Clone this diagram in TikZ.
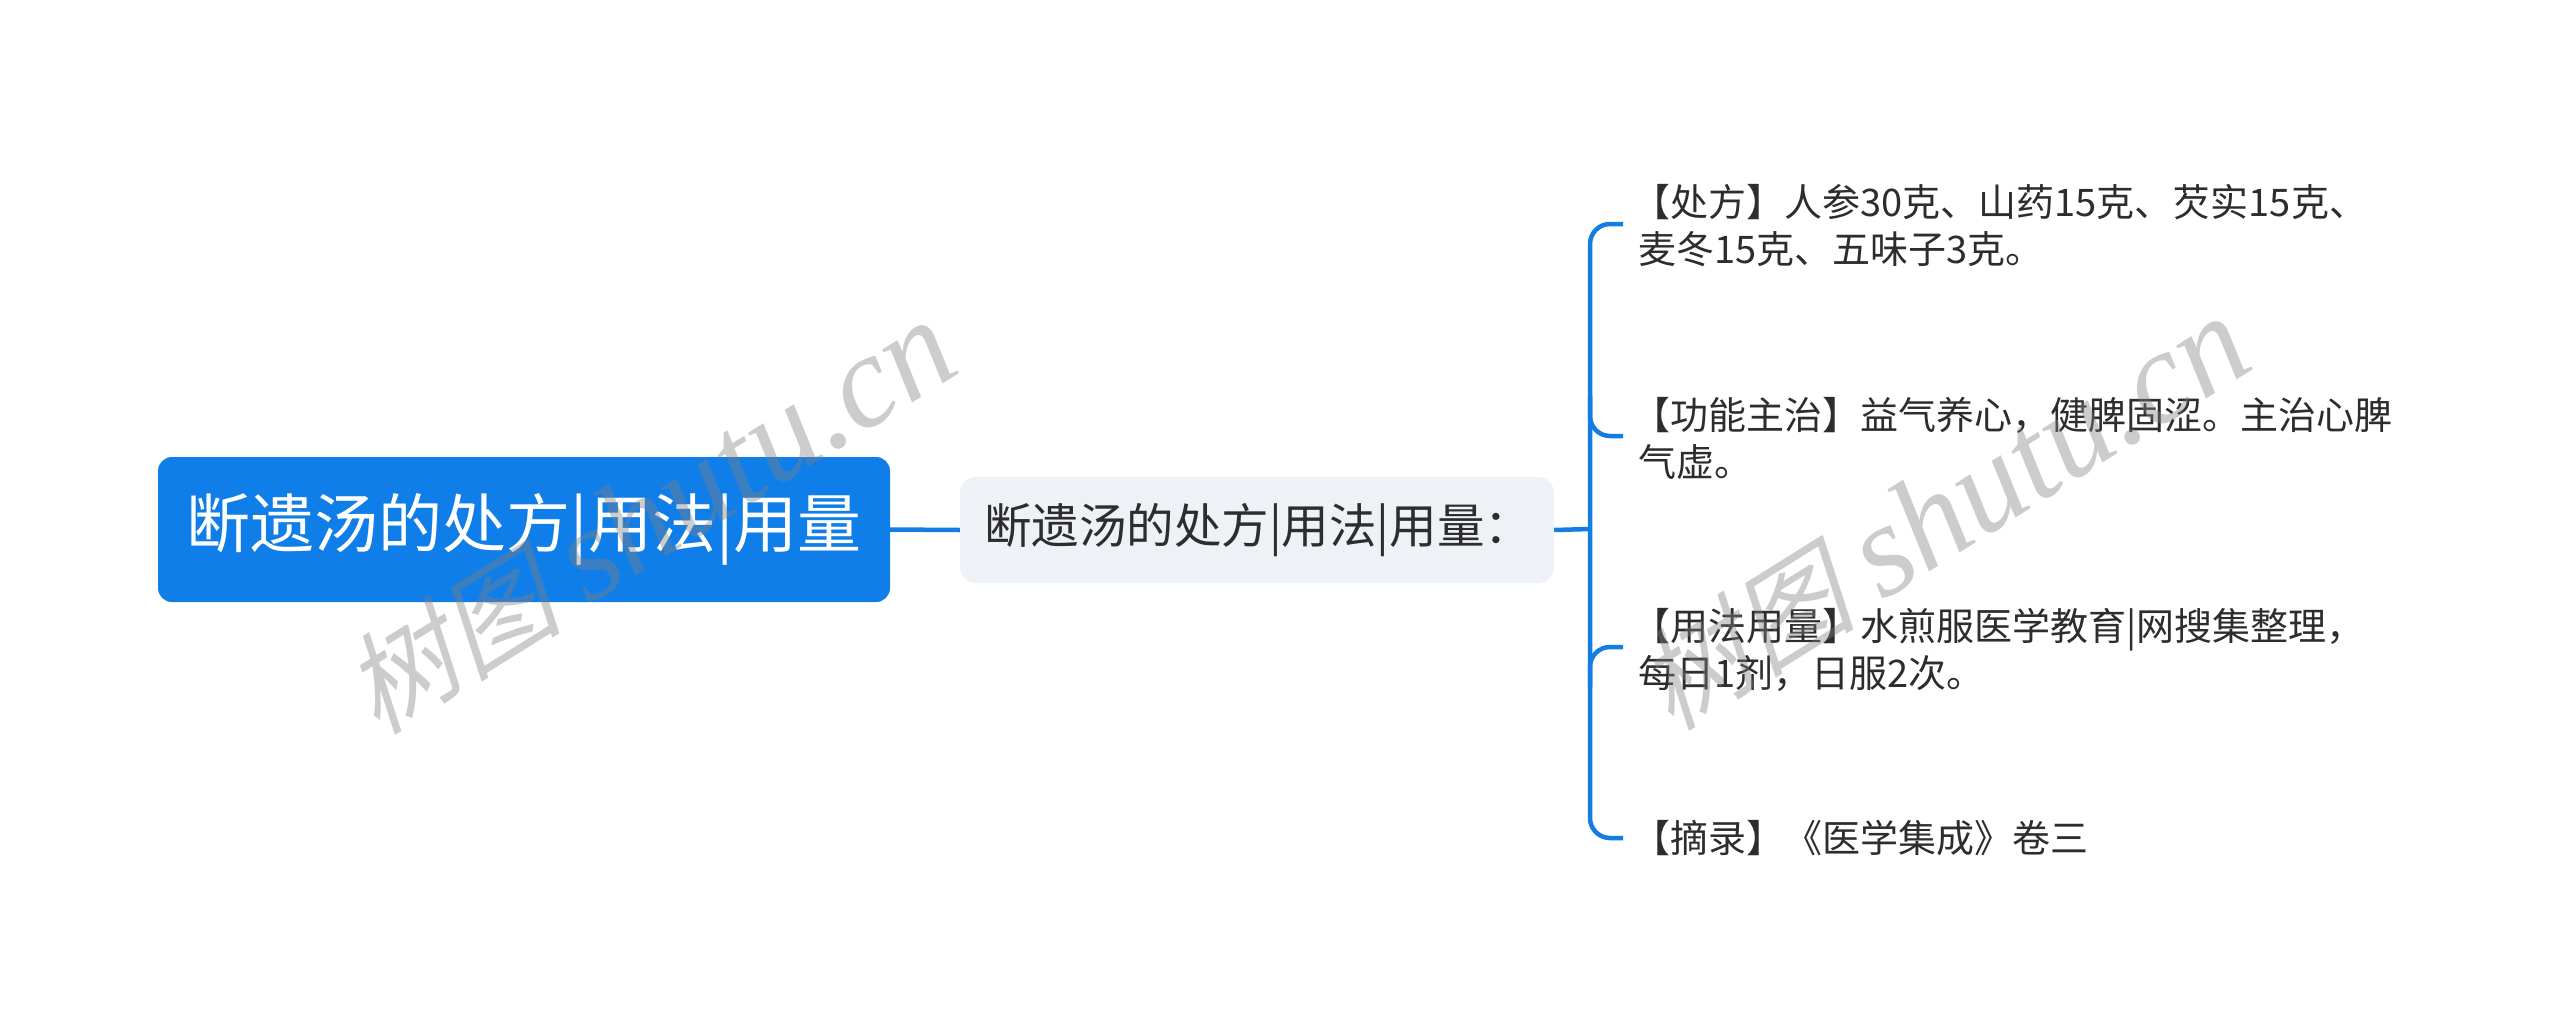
\documentclass[tikz,border=0pt]{standalone}
\usepackage{fontspec}
\setmainfont{Noto Sans CJK SC}
\newfontfamily\wmcjk[FakeSlant=0.25]{Noto Sans CJK SC}
\newfontfamily\wmlat{Liberation Serif}
\definecolor{rootblue}{RGB}{16,126,232}
\definecolor{subgray}{RGB}{238,241,245}
\definecolor{txtgray}{RGB}{45,45,45}
\definecolor{linkblue}{RGB}{20,125,228}
\tikzset{
  rootbox/.style={rectangle, rounded corners=14pt, fill=rootblue, text=white,
    minimum width=732pt, minimum height=145pt, inner sep=0pt,
    font=\fontsize{64}{76}\selectfont},
  subbox/.style={rectangle, rounded corners=16pt, fill=subgray, text=txtgray,
    text width=546pt, align=left, inner xsep=24pt, inner ysep=0pt,
    minimum height=106pt, font=\fontsize{47.5}{56}\selectfont},
  leaf/.style={anchor=west, inner sep=0pt, align=left, text=txtgray,
    font=\fontsize{38}{47}\selectfont},
  link/.style={draw=linkblue, line width=4.5pt},
  wmark/.style={rotate=32, text=black!50, text opacity=0.4, inner sep=0pt}
}
\newcommand{\wmtext}{{\wmcjk\fontsize{110}{120}\selectfont 树图}\hspace{28pt}{\wmlat\itshape\fontsize{132}{140}\selectfont shutu.cn}}
\begin{document}
\begin{tikzpicture}[x=1pt,y=-1pt]
\useasboundingbox (0,0) rectangle (2560,1036);
\fill[white] (0,0) rectangle (2560,1036);

\node[rootbox] (root) at (524,529.5) {断遗汤的处方|用法|用量};
\node[subbox] (sub) at (1257,530) {断遗汤的处方|用法|用量：};

\coordinate (bus) at (1590,529);

\node[leaf] (l1) at (1638,226) {\kern-0.15em【处方】人参30克、山药15克、芡实15克、\\麦冬15克、五味子3克。};
\node[leaf] (l2) at (1638,438) {\kern-0.15em【功能主治】益气养心，健脾固涩。主治心脾\\气虚。};
\node[leaf] (l3) at (1638,650) {\kern-0.15em【用法用量】水煎服医学教育|网搜集整理，\\每日1剂，日服2次。};
\node[leaf] (l4) at (1638,838) {\kern-0.15em【摘录】《医学集成》卷三};

\coordinate (e1) at (1623,224);
\coordinate (e2) at (1623,436);
\coordinate (e3) at (1623,647);
\coordinate (e4) at (1623,838);

\draw[link] (root.east) -- (sub.west);
\draw[link] (sub.east) -- (bus);
\draw[link, rounded corners=20pt] (e1) -- (bus |- e1) -- (bus |- e4) -- (e4);
\draw[link, rounded corners=20pt] ([yshift=40pt]bus |- e2) -- (bus |- e2) -- (e2);
\draw[link, rounded corners=20pt] ([yshift=-40pt]bus |- e3) -- (bus |- e3) -- (e3);

\node[wmark] (wm1) at (649,518) {\wmtext};
\node[wmark] (wm2) at (1943,514) {\wmtext};
\end{tikzpicture}
\end{document}
